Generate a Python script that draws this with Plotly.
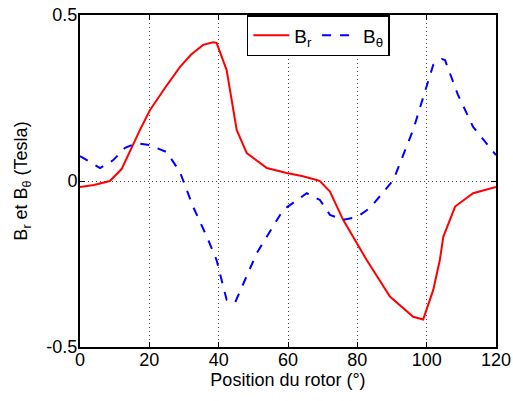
import plotly.graph_objects as go

# Radial component B_r (Tesla) vs rotor position (deg)
br_pos = [0, 4, 8.6, 12, 17.3, 20.2, 24.5, 28.8, 32, 35.5, 38.4, 39.4, 42.3, 45.2,
          48.1, 53.9, 59.6, 64, 68.3, 69.2, 72.1, 75.9, 82.7, 89.4, 96.1, 99,
          101.9, 103.8, 104.8, 108.2, 113.4, 120]
br_val = [-0.018, -0.012, 0.0, 0.036, 0.154, 0.214, 0.28, 0.343, 0.38, 0.41, 0.418,
          0.416, 0.334, 0.154, 0.084, 0.039, 0.024, 0.015, 0.003, 0.0, -0.032, -0.117,
          -0.238, -0.348, -0.409, -0.417, -0.328, -0.238, -0.168, -0.077, -0.037, -0.018]

# Tangential component B_theta (Tesla)
bt_pos = [0, 1, 5.8, 9.6, 13, 16.4, 20.2, 25, 28.8, 32.6, 36.6, 39.4, 42.3, 44.7,
          50, 51, 58.6, 65.4, 69.2, 72.1, 75.9, 80, 83.7, 90.4, 96.1, 101, 101.9,
          104.4, 105.3, 109, 113.4, 120]
bt_val = [0.075, 0.069, 0.039, 0.063, 0.1, 0.114, 0.108, 0.087, 0.028, -0.077, -0.168,
          -0.238, -0.358, -0.367, -0.238, -0.217, -0.087, -0.037, -0.057, -0.102,
          -0.117, -0.108, -0.081, 0.003, 0.154, 0.314, 0.35, 0.367, 0.364, 0.26,
          0.163, 0.078]

x_ticks = [0, 20, 40, 60, 80, 100, 120]
y_ticks = [-0.5, 0, 0.5]
y_labels = ['-0.5', '0', '0.5']

FONT = 'Liberation Sans, Arial, sans-serif'

fig = go.Figure()
fig.add_trace(go.Scatter(
    x=br_pos, y=br_val, mode='lines', name='B<sub>r</sub>',
    line=dict(color='#ff0000', width=2),
))
fig.add_trace(go.Scatter(
    x=bt_pos, y=bt_val, mode='lines', name='B<sub>θ</sub>',
    line=dict(color='#0000ff', width=2, dash='dash'),
))

axis_common = dict(
    showline=True, linecolor='black', linewidth=2, mirror='ticks',
    ticks='inside', ticklen=5, tickcolor='black', tickwidth=1,
    showgrid=True, gridcolor='#444444', gridwidth=1, griddash='1px,3px',
    zeroline=False, automargin=False,
    tickfont=dict(size=18, color='black', family=FONT),
)

fig.update_layout(
    width=513, height=401,
    margin=dict(l=80, r=17, t=15, b=54),
    paper_bgcolor='white', plot_bgcolor='white',
    font=dict(family=FONT, color='black', size=18),
    xaxis=dict(range=[0, 120], tickvals=x_ticks, ticklabelstandoff=-5,
               title=dict(text='Position du rotor (°)', font=dict(size=18), standoff=2),
               **axis_common),
    yaxis=dict(range=[-0.5, 0.5], tickvals=y_ticks, ticktext=y_labels,
               ticklabelstandoff=-3,
               title=dict(text='B<sub>r</sub> et B<sub>θ</sub> (Tesla)', font=dict(size=18),
                          standoff=14),
               **axis_common),
    legend=dict(orientation='h', x=0.573, xanchor='center', y=1.0, yanchor='top',
                bgcolor='white', bordercolor='black', borderwidth=1.5,
                font=dict(size=19), itemwidth=36, tracegroupgap=0),
    showlegend=True,
)

# drop the default 8px body margin so the figure fills the window exactly
fig.write_html('out.html', config={'displayModeBar': False},
               post_script="document.body.style.margin='0';")
